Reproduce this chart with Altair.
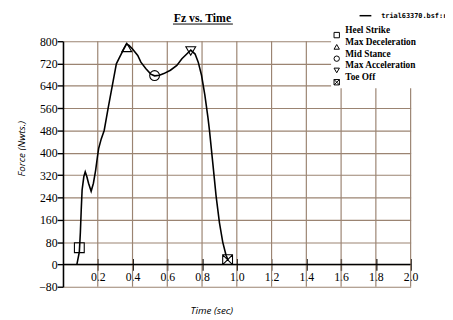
import altair as alt
import pandas as pd

# ---- data ----
time_s = [0.08, 0.094, 0.10, 0.105, 0.11, 0.12, 0.128, 0.137, 0.147, 0.162, 0.175, 0.188,
          0.198, 0.205, 0.22, 0.237, 0.26, 0.288, 0.307, 0.326, 0.345, 0.365, 0.38, 0.40,
          0.43, 0.448, 0.476, 0.505, 0.527, 0.555, 0.58, 0.618, 0.655, 0.684, 0.712, 0.735,
          0.76, 0.778, 0.797, 0.816, 0.834, 0.843, 0.862, 0.881, 0.90, 0.919, 0.938, 0.95]
force_n = [0, 45, 115, 197, 267, 315, 332, 315, 291, 262, 291, 338,
           385, 415, 450, 480, 561, 655, 719, 743, 766, 790, 785, 772,
           749, 725, 702, 682, 676, 678, 684, 696, 713, 737, 754, 768,
           754, 725, 678, 608, 526, 479, 362, 244, 150, 80, 33, 15]

event_names = ["Heel Strike", "Max Deceleration", "Mid Stance", "Max Acceleration", "Toe Off"]
event_time = [0.094, 0.367, 0.527, 0.735, 0.947]
event_force = [60, 778, 677, 765, 17]
event_shapes = ["square", "triangle-up", "circle", "triangle-down",
                "M-1,-1H1V1H-1ZM-1,-1L1,1M-1,1L1,-1"]

x_ticks = [0.2, 0.4, 0.6, 0.8, 1.0, 1.2, 1.4, 1.6, 1.8, 2.0]
y_ticks = [-80, 0, 80, 160, 240, 320, 400, 480, 560, 640, 720, 800]

chart_title = "Fz vs. Time"
series_label = "trial63370.bsf:r1"
x_title = "Time (sec)"
y_title = "Force (Nwts.)"

# ---- styling ----
W, H = 354, 250
GRID = "#9b8472"
SERIF = "Liberation Serif"

xs = alt.Scale(domain=[0, 2], nice=False, zero=False)
ys = alt.Scale(domain=[-80, 800], nice=False, zero=False)

X_AX = alt.Axis(values=x_ticks, format=".1f", grid=False, domain=False, offset=-28.7,
                tickSize=12, tickColor="black", tickWidth=1.4, labelFont=SERIF,
                labelFontSize=12, labelColor="black", labelPadding=1, labelFlush=False,
                labelOverlap=False, title=x_title, titleFont="Open Sans",
                titleFontStyle="italic", titleFontWeight="normal", titleFontSize=10,
                titleColor="black", titleX=151, titleY=52.7, titleAlign="center",
                titleBaseline="middle")
Y_AX = alt.Axis(values=y_ticks, grid=True, gridColor=GRID, gridWidth=1.2,
                domainColor="black", domainWidth=1.6, tickColor="black", tickWidth=1.4,
                tickSize=6, labelFont=SERIF, labelFontSize=12, labelColor="black",
                labelPadding=0, labelFlush=False, labelOverlap=False, title=y_title,
                titleFont="Open Sans", titleFontStyle="italic", titleFontWeight="normal",
                titleFontSize=10, titleColor="black", titleX=-42, titleY=109,
                titleAngle=-90, titleAlign="center", titleBaseline="middle")

curve_df = pd.DataFrame({"time": time_s, "force": force_n})
event_df = pd.DataFrame({"time": event_time, "force": event_force, "event": event_names})
vgrid_df = pd.DataFrame({"time": x_ticks})

vgrid = alt.Chart(vgrid_df).mark_rule(color=GRID, strokeWidth=1.2).encode(
    x=alt.X("time:Q", scale=xs, axis=X_AX),
    y=alt.YDatum(-80, scale=ys, axis=Y_AX),
    y2=alt.datum(800),
)

zero_line = alt.Chart(pd.DataFrame({"force": [0]})).mark_rule(
    color="black", strokeWidth=1.6).encode(
    y=alt.Y("force:Q", scale=ys, axis=Y_AX),
)

curve = alt.Chart(curve_df).mark_line(color="black", strokeWidth=1.6).encode(
    x=alt.X("time:Q", scale=xs, axis=X_AX),
    y=alt.Y("force:Q", scale=ys, axis=Y_AX),
    order="time:Q",
)

events = alt.Chart(event_df).mark_point(filled=False, color="black", size=100,
                                        strokeWidth=1.1, opacity=1).encode(
    x=alt.X("time:Q", scale=xs, axis=X_AX),
    y=alt.Y("force:Q", scale=ys, axis=Y_AX),
    shape=alt.Shape("event:N", scale=alt.Scale(domain=event_names, range=event_shapes),
                    legend=alt.Legend(orient="none", legendX=273, legendY=-12, title=None,
                                      labelFont=SERIF, labelFontSize=9.5, labelFontWeight="bold",
                                      labelColor="black", labelBaseline="bottom",
                                      symbolSize=30, symbolStrokeColor="black",
                                      symbolFillColor="white", symbolStrokeWidth=1,
                                      rowPadding=-4, padding=1, fillColor="white",
                                      labelOffset=4)),
)

title_df = pd.DataFrame({"t": [chart_title]})
title_txt = alt.Chart(title_df).mark_text(font=SERIF, fontSize=12, fontWeight="bold",
                                          color="black", align="center",
                                          baseline="middle").encode(
    text="t:N", x=alt.value(142), y=alt.value(-24))
title_ul = alt.Chart(title_df).mark_rule(color="black", strokeWidth=1).encode(
    x=alt.value(112), x2=alt.value(173), y=alt.value(-17.5))

ser_df = pd.DataFrame({"s": [series_label]})
ser_line = alt.Chart(ser_df).mark_rule(color="black", strokeWidth=1.5).encode(
    x=alt.value(302), x2=alt.value(314), y=alt.value(-26))
ser_txt = alt.Chart(ser_df).mark_text(font="DejaVu Sans Mono", fontSize=7,
                                      fontWeight="bold", color="black", align="left",
                                      baseline="middle").encode(
    text="s:N", x=alt.value(324), y=alt.value(-26))

chart = alt.layer(vgrid, zero_line, curve, events, title_txt, title_ul, ser_line,
                  ser_txt).properties(
    width=W, height=H,
    autosize=alt.AutoSizeParams(type="none"),
    padding={"left": 56, "top": 31, "right": 35, "bottom": 29},
    background="white",
).configure_view(stroke=None)

chart.save("out.html", embed_options={"renderer": "svg", "actions": False})
